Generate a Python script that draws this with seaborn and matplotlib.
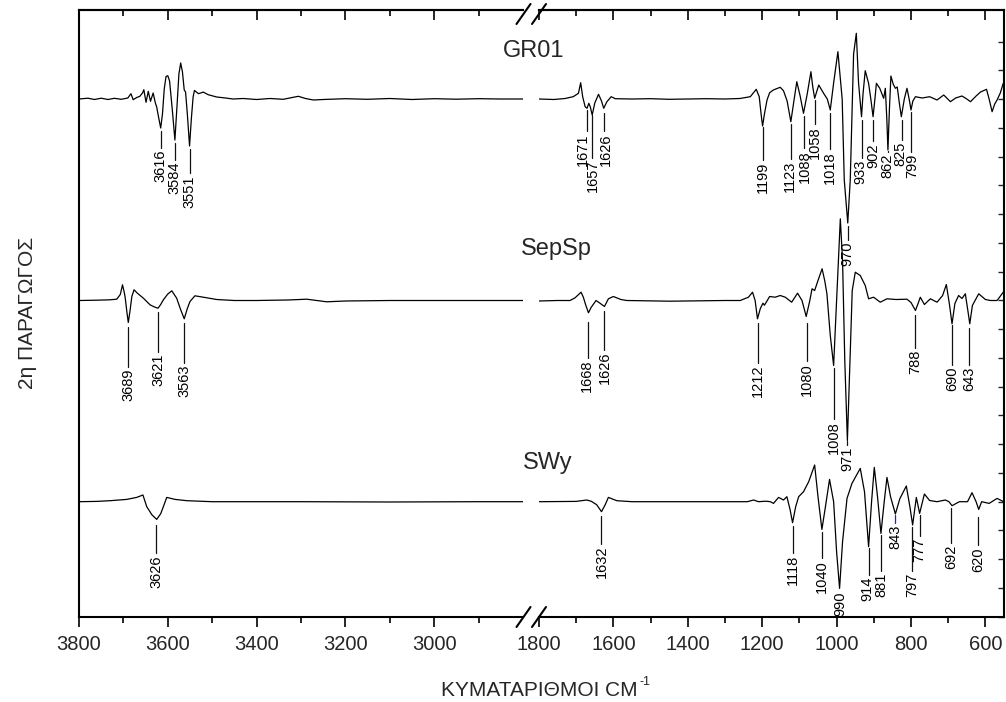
import numpy as np
import pandas as pd
import matplotlib
matplotlib.use("Agg")
import matplotlib.pyplot as plt
import seaborn as sns

# ---------------- data (wavenumber, relative 2nd-derivative value) ----------------
gr01_left_w = [3800, 3780, 3765, 3750, 3735, 3720, 3705, 3690, 3683, 3678, 3670, 3663, 3657, 3654, 3649,
               3644, 3639, 3633, 3628, 3625, 3620, 3616, 3612, 3608, 3604, 3600, 3596, 3590, 3584, 3579,
               3575, 3571, 3567, 3563, 3560, 3556, 3551, 3547, 3543, 3540, 3531, 3520, 3509, 3490, 3470,
               3453, 3430, 3400, 3370, 3340, 3306, 3290, 3272, 3250, 3200, 3150, 3100, 3050, 3000, 2950,
               2900, 2850, 2800]
gr01_left_v = [0, 0.8, -0.5, 0.8, -0.5, 0.7, -0.3, 1.0, 5.3, -0.7, 1.5, 2.7, 6, 9.3, -3.3,
               7.7, -2.3, 6, -4, -8, -20, -29, -15, 10, 22.5, 23.3, 18, -10, -41, -5,
               25, 36, 27, 9, 7, -15, -47, -20, 2, 8.6, 5.3, 6.9, 4.3, 2, 1,
               0, 0.5, -0.5, 0.5, -0.3, 2.7, 0.5, -1, -0.5, 0.3, -0.3, 0.5, -0.5, 0.3, -0.2,
               0.3, 0, 0]

gr01_right_w = [1800, 1760, 1730, 1708, 1694, 1688, 1682.6, 1676, 1671, 1666, 1662, 1657, 1650, 1640, 1632,
                1626, 1618, 1606, 1595, 1550, 1500, 1450, 1400, 1350, 1300, 1260, 1232, 1216, 1208, 1203,
                1199, 1194, 1187, 1180, 1170, 1160, 1151.6, 1142.8, 1133, 1123, 1114, 1107, 1098, 1089, 1079,
                1069, 1064, 1059, 1048, 1035, 1025, 1017, 1008, 996.5, 985, 979.4, 970, 963.3, 954.3, 947,
                941, 933, 929, 923, 914, 908, 902, 897, 893, 884, 873.5, 869, 865, 862, 858,
                854, 848, 842, 837, 831, 826, 818, 810.8, 805, 800, 795, 788, 770, 750, 730,
                712, 694, 680, 663, 650, 640, 625, 613, 597, 590, 582, 575, 568.6, 560, 552]
gr01_right_v = [0, -0.5, 0.5, 2.3, 5.7, 16.3, 2.3, -7.7, -9.3, -4.3, -8, -16, -4, 4.7, -2,
                -9.3, -3, 2.3, 0.3, 0, 0.3, -0.3, 0, 0.3, 0, 0.5, 2.3, 9.7, 2.3, -15,
                -27, -15, -1, 6.3, 9, 10.5, 11.7, 8.3, -2, -22.7, 0, 17.3, 3, -14.3, 5,
                27.3, 12, 0.7, 14, 5.7, 0, -11, 16, 47.3, 0, -81, -124, -81, 45, 65.7,
                16, -17.7, 5, 28.3, 15.7, 0, -17.7, 0, 15.7, 10.7, 0.7, 10.7, -20, -51, -10,
                23, 15, 10.7, 12, -5, -17.7, 0, 10.7, 0, -11, -2, 2.3, 1, 2.3, -1,
                4, -2.7, 1, 3, 0, -2.7, 3, 7, 9.7, 0, -12.7, -5, -1, 6, 15.7]

sep_left_w = [3800, 3760, 3730, 3715, 3707, 3702, 3698, 3696, 3692, 3689, 3685, 3681, 3676, 3668.5, 3655,
              3640, 3630, 3622, 3616, 3610, 3600, 3591, 3580, 3572, 3563, 3556, 3550, 3539, 3520, 3490,
              3450, 3400, 3330, 3287, 3242, 3200, 3100, 3000, 2900, 2800]
sep_left_v = [0, 0.3, 0.7, 1.3, 6, 15.7, 8, 3, -12, -22, -10, 4, 10.7, 7.3, 2.3,
              -4.3, -6.5, -7.7, -4, 0.7, 6.5, 9.7, 2.3, -8, -18.3, -8, -1, 4.7, 3.3, 1,
              0, 0, 0.5, 1.3, -1.3, -0.5, 0, 0, 0, 0]

sep_right_w = [1800, 1750, 1716.6, 1703, 1687, 1680.8, 1674, 1667, 1660, 1646.6, 1635, 1624, 1613.5, 1600, 1580,
               1564, 1447, 1300, 1259, 1237, 1226, 1219, 1212.7, 1205, 1198, 1194, 1180, 1165, 1151.6, 1138,
               1120.8, 1105, 1093, 1081.7, 1072, 1066, 1059, 1050, 1039, 1032, 1026, 1017, 1008, 1000, 990,
               984, 978, 971, 964, 958, 949.8, 936.4, 923, 914, 900.6, 882.6, 864.6, 840, 810.8, 800,
               788, 780, 775, 764, 748, 730, 715, 705, 697, 689.7, 682, 672, 663, 654, 648,
               642, 635, 618, 600, 586.6, 568.6, 552]
sep_right_v = [-0.5, 0, 0, 2.7, 8.3, 3.3, -5, -12.3, -7, 0, -3, -6, 1.7, 4, 1,
               0, -0.7, 0, 0, 3.3, 8.3, 0, -18.3, -8, -2.7, -4.7, 4, 3.3, 5, 3.3,
               -1.7, 7.3, 0, -16, 0, 11.7, 10, 20, 31.7, 20, 6.7, -35, -65, 0, 81.7,
               40, -60, -140, -60, 10, 28.3, 25, 15, 1.7, 3.3, -1.7, 1.7, 1.0, 1.3, -2,
               -10, -2, 3.3, -4, 1.7, -1.7, 5, 16, -3, -23.3, -3, 5, 2, 6.7, -8,
               -23.3, -5, 6.7, 1, 0, 0, 8.3]

swy_left_w = [3800, 3760, 3730, 3692.5, 3670, 3656, 3647.4, 3636, 3625, 3616, 3610, 3602.4, 3583.7, 3557, 3500,
              3300, 3100, 2900, 2800]
swy_left_v = [0, 0.3, 1, 2.3, 4.3, 6.7, -5, -13, -17.7, -12, -5, 4.3, 2.3, 1, 0,
              0, -0.3, 0, 0]

swy_right_w = [1800, 1700, 1671.7, 1660, 1645, 1632, 1622, 1613.5, 1591, 1550, 1400, 1300, 1240, 1223, 1210,
               1190, 1178, 1169.6, 1156, 1142.8, 1133.6, 1125, 1118.4, 1110, 1102, 1088.9, 1075, 1059, 1050, 1039.5,
               1030, 1019, 1008, 1000, 992, 984, 972, 958.7, 936.4, 925, 914, 906, 898.7, 890, 880.8,
               872, 864.6, 855, 842, 830, 812.6, 803, 795.6, 785.7, 776.8, 764, 750, 730, 707.7, 698,
               689.7, 670, 648, 636, 625, 618, 610, 590, 568.6, 551]
swy_right_v = [0, 0.3, 1.7, 0.5, -3, -10, -3, 4.3, 1, 0, 0, 0, 0, 1.7, 0,
               0.5, 0, -1.7, 4.3, 1.7, 5, -8, -21, -5, 5, 10, 20, 36.7, 5, -27.7,
               -5, 22.3, 0, -50, -86.7, -40, 3.3, 18.3, 33.3, 10, -45, 0, 34.3, 5, -31.7,
               0, 24.3, 5, -12.3, 3, 15.7, -5, -23.3, 4.3, -11.7, 7.7, 1.2, 0, 1.7, 0,
               -4, 0, 0, 9, 0, -7.7, 0, -1.7, 3.3, 0]

sample_names = ["GR01", "SepSp", "SWy"]

# peak labels: wavenumber, line start (px from top), text top (px from top), text x-shift (px)
gr01_peaks = [3616, 3584, 3551, 1671, 1657, 1626, 1199, 1123, 1088, 1058, 1018, 970, 933, 902, 862, 825, 799]
gr01_line0 = [131, 143, 149, 110, 115, 113, 127, 124, 116, 100, 113, 226, 120, 120, 151, 120, 112]
gr01_text0 = [150, 162, 175, 133, 160, 133, 162, 161, 150, 126, 151, 242, 160, 143, 154, 142, 154]
gr01_dx = [0, 0, 0, -4, 1, 2, 0, -1, 1, 0, 0, 0, -1, 0, -1, -1, 1]

sep_peaks = [3689, 3621, 3563, 1668, 1626, 1212, 1080, 1008, 971, 788, 690, 643]
sep_line0 = [327, 312, 323, 322, 311, 323, 323, 368, 441, 315, 325, 328]
sep_text0 = [369, 354, 365, 360, 352, 365, 363, 421, 447, 350, 367, 367]
sep_dx = [0, 0, 0, -1, 1, 0, 0, 0, 0, 0, 0, 0]

swy_peaks = [3626, 1632, 1118, 1040, 990, 914, 881, 843, 797, 777, 692, 620]
swy_line0 = [525, 516, 526, 532, 589, 548, 535, 515, 527, 515, 508, 517]
swy_text0 = [555, 546, 555, 560, 591, 577, 573, 525, 573, 538, 545, 547]
swy_dx = [0, 0, 0, 0, 0, -1, 1, 0, 0, 0, 0, 0]

x_major_left = [3800, 3600, 3400, 3200, 3000]
x_minor_left = [3700, 3500, 3300, 3100, 2900]
x_major_right = [1800, 1600, 1400, 1200, 1000, 800, 600]
x_minor_right = [1700, 1500, 1300, 1100, 900, 700]

# ---------------- style ----------------
sns.set_style("ticks")
plt.rcParams['font.family'] = ['Liberation Sans', 'DejaVu Sans']

W, H = 1006, 702
BOT, TOP = 617, 10
fig = plt.figure(figsize=(W / 100, H / 100), dpi=100)


def fy(py):
    return 1 - py / H


axL = fig.add_axes([79 / W, fy(BOT), (523 - 79) / W, (BOT - TOP) / H])
axR = fig.add_axes([539 / W, fy(BOT), (1004 - 539) / W, (BOT - TOP) / H])

offsets = {"GR01": BOT - 99, "SepSp": BOT - 300.5, "SWy": BOT - 501.7}

segments = [
    ("GR01", gr01_left_w, gr01_left_v, gr01_right_w, gr01_right_v),
    ("SepSp", sep_left_w, sep_left_v, sep_right_w, sep_right_v),
    ("SWy", swy_left_w, swy_left_v, swy_right_w, swy_right_v),
]
for name, lw_, lv_, rw_, rv_ in segments:
    off = offsets[name]
    dL = pd.DataFrame({"w": lw_, "v": np.array(lv_) + off})
    dR = pd.DataFrame({"w": rw_, "v": np.array(rv_) + off})
    sns.lineplot(data=dL, x="w", y="v", ax=axL, sort=False, estimator=None, color="black", lw=0.9)
    sns.lineplot(data=dR, x="w", y="v", ax=axR, sort=False, estimator=None, color="black", lw=0.9)

for peaks, l0, t0, dxs, is_swy in [(gr01_peaks, gr01_line0, gr01_text0, gr01_dx, False),
                                   (sep_peaks, sep_line0, sep_text0, sep_dx, False),
                                   (swy_peaks, swy_line0, swy_text0, swy_dx, True)]:
    for w, a, b, dx in zip(peaks, l0, t0, dxs):
        ax = axL if w > 2000 else axR
        col = "#1a1aff" if (w == 843 and is_swy) else "#111111"
        if b - 2 > a:
            ax.plot([w, w], [BOT - a, BOT - (b - 2)], color=col, lw=0.9)
        ax.annotate(str(w), xy=(w, BOT - b), xytext=(dx, 0), textcoords="offset pixels",
                    rotation=90, ha="center", va="top", fontsize=10.5, color="black")

for ax, xl, mj, mn in [(axL, (3800, 2800), x_major_left, x_minor_left),
                       (axR, (1800, 550), x_major_right, x_minor_right)]:
    ax.set_xlim(*xl)
    ax.set_ylim(0, BOT - TOP)
    ax.set_xticks(mj)
    ax.set_xticks(mn, minor=True)
    ax.set_xticklabels([str(t) for t in mj], fontsize=14.5)
    ax.tick_params(axis="x", which="major", direction="out", length=7, width=1.4, pad=6)
    ax.tick_params(axis="x", which="minor", direction="out", length=4, width=1.4)
    ax.set_yticks([])
    ax.set_xlabel("")
    ax.set_ylabel("")
    for s in ax.spines.values():
        s.set_linewidth(1.5)
        s.set_color("black")
    sec = ax.secondary_xaxis("top")
    sec.set_xticks(mj)
    sec.set_xticks(mn, minor=True)
    sec.tick_params(axis="x", which="major", direction="in", length=7, width=1.4, labeltop=False)
    sec.tick_params(axis="x", which="minor", direction="in", length=4, width=1.4, labeltop=False)
    sec.spines["top"].set_linewidth(1.5)

axL.spines["right"].set_visible(False)
axR.spines["left"].set_visible(False)
axR.spines["right"].set_visible(True)
axR.set_yticks(np.arange(BOT - 41.7, 0, -28.75), minor=True)
axR.tick_params(axis="y", which="minor", direction="in", length=4, width=1.0, right=True, left=False)

# axis-break slashes
for cx in (523.5, 539):
    for cy in (TOP + 4, BOT):
        fig.add_artist(plt.Line2D([(cx - 7) / W, (cx + 7) / W], [fy(cy + 10), fy(cy - 10)],
                                  color="black", lw=1.5, transform=fig.transFigure))

fig.text(534 / W, fy(51), sample_names[0], fontsize=17, ha="center", va="center")
fig.text(556 / W, fy(249), sample_names[1], fontsize=17, ha="center", va="center")
fig.text(548 / W, fy(463), sample_names[2], fontsize=17, ha="center", va="center")

fig.text(638 / W, fy(691), "ΚΥΜΑΤΑΡΙΘΜΟΙ CM", fontsize=15, ha="right", va="center")
fig.text(640 / W, fy(682), "-1", fontsize=9, ha="left", va="center")
fig.text(28 / W, fy(313), "2η ΠΑΡΑΓΩΓΟΣ", fontsize=15, rotation=90, ha="center", va="center")

fig.savefig("out.png", dpi=100)
